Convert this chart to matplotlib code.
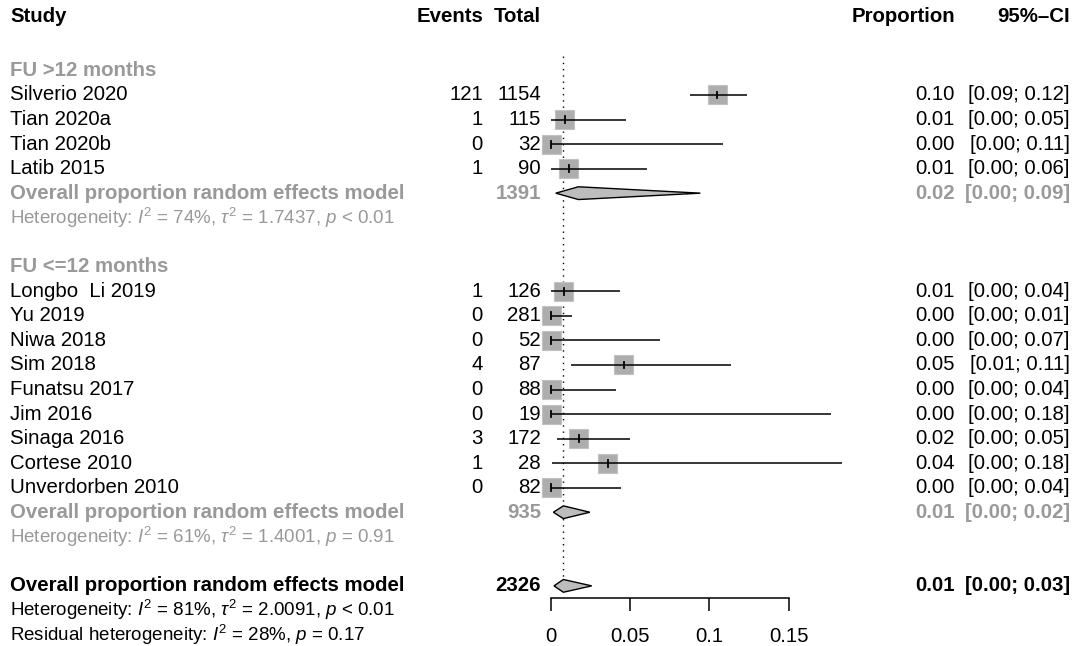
import matplotlib.pyplot as plt
from matplotlib.patches import Polygon, Rectangle

plt.rcParams['font.family'] = ['Liberation Sans', 'DejaVu Sans']
plt.rcParams['mathtext.fontset'] = 'custom'
plt.rcParams['mathtext.rm'] = 'Liberation Sans'
plt.rcParams['mathtext.it'] = 'Liberation Sans:italic'
plt.rcParams['mathtext.bf'] = 'Liberation Sans:bold'

# FU >12 months
g1_study = ['Silverio 2020', 'Tian 2020a', 'Tian 2020b', 'Latib 2015']
g1_events = [121, 1, 0, 1]
g1_total = [1154, 115, 32, 90]
g1_prop = [0.1049, 0.0087, 0.0, 0.0111]
g1_lo = [0.0878, 0.0002, 0.0, 0.0003]
g1_hi = [0.1240, 0.0475, 0.1089, 0.0604]
g1_pool = (0.0173, 0.0030, 0.0943)  # est, lo, hi
g1_n = 1391
g1_het = r'Heterogeneity: $I^2$ = 74%, $\tau^2$ = 1.7437, $p$ < 0.01'

# FU <=12 months
g2_study = ['Longbo  Li 2019', 'Yu 2019', 'Niwa 2018', 'Sim 2018', 'Funatsu 2017',
            'Jim 2016', 'Sinaga 2016', 'Cortese 2010', 'Unverdorben 2010']
g2_events = [1, 0, 0, 4, 0, 0, 3, 1, 0]
g2_total = [126, 281, 52, 87, 88, 19, 172, 28, 82]
g2_prop = [0.0079, 0.0, 0.0, 0.0460, 0.0, 0.0, 0.0174, 0.0357, 0.0]
g2_lo = [0.0002, 0.0, 0.0, 0.0127, 0.0, 0.0, 0.0036, 0.0009, 0.0]
g2_hi = [0.0436, 0.0131, 0.0685, 0.1137, 0.0411, 0.1765, 0.0501, 0.1835, 0.0440]
g2_pool = (0.0078, 0.0015, 0.0245)
g2_n = 935
g2_het = r'Heterogeneity: $I^2$ = 61%, $\tau^2$ = 1.4001, $p$ = 0.91'

all_pool = (0.0078, 0.0019, 0.0257)
all_n = 2326
all_het = r'Heterogeneity: $I^2$ = 81%, $\tau^2$ = 2.0091, $p$ < 0.01'
resid_het = r'Residual heterogeneity: $I^2$ = 28%, $p$ = 0.17'

xticks = [0, 0.05, 0.1, 0.15]
xticklabels = ['0', '0.05', '0.1', '0.15']

W, H = 1073, 646
GRAY = '#999999'
FS = 14.7
FS_HET = 13.5
ylim = (25.45, -0.87)

fig = plt.figure(figsize=(W / 100, H / 100), dpi=100)
tx = fig.add_axes([0, 0, 1, 1])
tx.set_xlim(0, W)
tx.set_ylim(*ylim)
tx.axis('off')

# forest panel: 0 -> 551 px, 0.15 -> 788.6 px
x0, x1 = -0.02, 0.20
ppu = 1584.0
left_px = 551 + x0 * ppu
right_px = 551 + x1 * ppu
fx = fig.add_axes([left_px / W, 0, (right_px - left_px) / W, 1])
fx.set_xlim(x0, x1)
fx.set_ylim(*ylim)
fx.patch.set_alpha(0)
for s in ['top', 'left', 'right']:
    fx.spines[s].set_visible(False)
fx.set_yticks([])
fx.spines['bottom'].set_position(('data', 23.5))
fx.spines['bottom'].set_bounds(0, 0.15)
fx.spines['bottom'].set_linewidth(1.1)
fx.set_xticks(xticks)
fx.set_xticklabels(xticklabels, fontsize=FS)
fx.tick_params(axis='x', length=9.5, width=1.1, pad=11, direction='out')

X_STUDY, X_EV, X_TOT, X_PROP, X_CI = 10, 483, 541, 955, 1070


def row_text(y, study, ev, tot, est, lo, hi, color='black', weight='normal'):
    tx.text(X_STUDY, y, study, ha='left', va='center', fontsize=FS, color=color, weight=weight)
    if ev is not None:
        tx.text(X_EV, y, str(ev), ha='right', va='center', fontsize=FS, color=color, weight=weight)
    tx.text(X_TOT, y, str(tot), ha='right', va='center', fontsize=FS, color=color, weight=weight)
    tx.text(X_PROP, y, f'{est:.2f}', ha='right', va='center', fontsize=FS, color=color, weight=weight)
    tx.text(X_CI, y, f'[{lo:.2f}; {hi:.2f}]', ha='right', va='center', fontsize=FS,
            color=color, weight=weight)


def study_mark(y, est, lo, hi):
    sw, sh = 19 / ppu, 19 / 24.55
    fx.add_patch(Rectangle((est - sw / 2, y - sh / 2), sw, sh, facecolor='#ADADAD',
                           edgecolor='#C2C2C2', lw=0.8, zorder=2))
    fx.plot([lo, hi], [y, y], color='black', lw=1.1, zorder=3, solid_capstyle='butt')
    fx.plot([est, est], [y - 0.14, y + 0.14], color='black', lw=1.3, zorder=3)


def diamond(y, est, lo, hi):
    h = 0.26
    fx.add_patch(Polygon([(lo, y), (est, y - h), (hi, y), (est, y + h)], closed=True,
                         facecolor='#BDBDBD', edgecolor='black', lw=1.0, zorder=3))


# header
for x, s, ha in [(X_STUDY, 'Study', 'left'), (X_EV, 'Events', 'right'), (X_TOT, 'Total', 'right'),
                 (X_PROP, 'Proportion', 'right'), (X_CI, '95%\u2013CI', 'right')]:
    tx.text(x, -0.2, s, ha=ha, va='center', fontsize=FS, weight='bold')

# reference line at overall estimate
fx.plot([all_pool[0]] * 2, [1.4, 23.2], color='black', lw=1.0, ls=(0, (1, 3.5)), zorder=1)

# group 1
tx.text(X_STUDY, 2, 'FU >12 months', ha='left', va='center', fontsize=FS, color=GRAY, weight='bold')
for i, s in enumerate(g1_study):
    y = 3 + i
    row_text(y, s, g1_events[i], g1_total[i], g1_prop[i], g1_lo[i], g1_hi[i])
    study_mark(y, g1_prop[i], g1_lo[i], g1_hi[i])
row_text(7, 'Overall proportion random effects model', None, g1_n, *g1_pool, color=GRAY, weight='bold')
diamond(7, *g1_pool)
tx.text(X_STUDY, 8, g1_het, ha='left', va='center', fontsize=FS_HET, color=GRAY)

# group 2
tx.text(X_STUDY, 10, 'FU <=12 months', ha='left', va='center', fontsize=FS, color=GRAY, weight='bold')
for i, s in enumerate(g2_study):
    y = 11 + i
    row_text(y, s, g2_events[i], g2_total[i], g2_prop[i], g2_lo[i], g2_hi[i])
    study_mark(y, g2_prop[i], g2_lo[i], g2_hi[i])
row_text(20, 'Overall proportion random effects model', None, g2_n, *g2_pool, color=GRAY, weight='bold')
diamond(20, *g2_pool)
tx.text(X_STUDY, 21, g2_het, ha='left', va='center', fontsize=FS_HET, color=GRAY)

# overall
row_text(23, 'Overall proportion random effects model', None, all_n, *all_pool, weight='bold')
diamond(23, *all_pool)
tx.text(X_STUDY, 24, all_het, ha='left', va='center', fontsize=FS_HET)
tx.text(X_STUDY, 25, resid_het, ha='left', va='center', fontsize=FS_HET)

fig.savefig('out.png', dpi=100)
